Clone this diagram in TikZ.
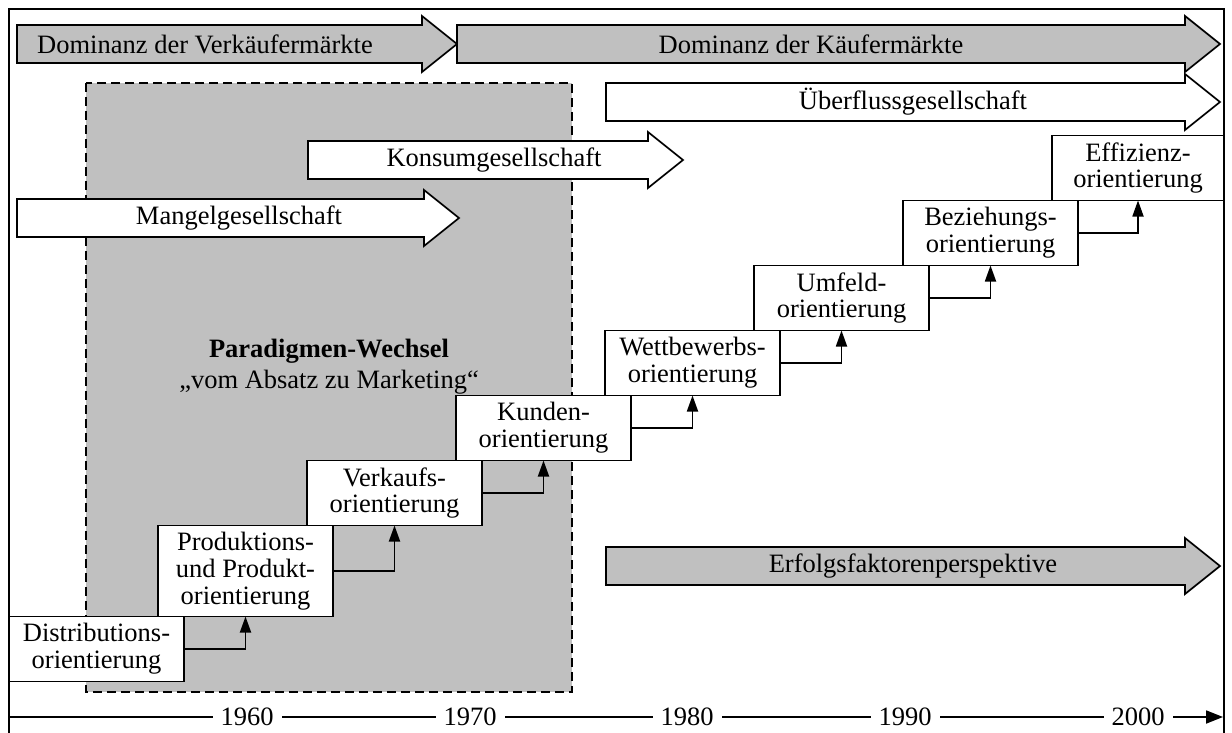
\documentclass[tikz,border=0pt]{standalone}
\usepackage{fontspec}
\setmainfont{Liberation Serif}
\usetikzlibrary{arrows.meta,positioning}
\definecolor{bandgray}{RGB}{192,192,192}
\tikzstyle{stepbox}=[rectangle,draw,line width=0.9pt,fill=white,align=center,minimum width=87.5pt,minimum height=32.5pt,inner sep=1pt,outer sep=0pt,font=\fontsize{13.25}{13.4}\selectfont]
\tikzstyle{band}=[draw,line width=0.85pt,line join=miter]
\tikzstyle{bandtext}=[inner sep=0pt,font=\fontsize{13.25}{13.4}\selectfont]
\tikzstyle{conn}=[-{Triangle[length=8pt,width=5.5pt]},line width=0.9pt]
\tikzstyle{yearlbl}=[fill=white,inner xsep=4pt,inner ysep=1pt,font=\fontsize{13.25}{13.4}\selectfont]
% block arrow: name, fill, left x, tip x, mid y, label x, label
\newcommand{\bandarrow}[7]{%
  \draw[band,fill=#2] (#3,#5-19) -- (#4-35,#5-19) -- (#4-35,#5-28) -- (#4,#5)
    -- (#4-35,#5+28) -- (#4-35,#5+19) -- (#3,#5+19) -- cycle;
  \node[bandtext] (#1) at (#6,#5) {#7};}

\begin{document}
\begin{tikzpicture}[x=0.5pt,y=-0.5pt]
\clip (0,0) rectangle (1232,733);
\draw[line width=0.9pt] (9,9) rectangle (1224,760);
% market phases
\bandarrow{verk}{bandgray}{17}{457}{44}{205}{Dominanz der Verkäufermärkte}
\bandarrow{kauf}{bandgray}{457}{1220}{44}{811}{Dominanz der Käufermärkte}
% paradigm shift area
\draw[line width=1.1pt,dash pattern=on 4.5pt off 2.5pt,fill=bandgray] (86,83) rectangle (572,692);
\bandarrow{ueber}{white}{606}{1220}{102}{913}{Überflussgesellschaft}
\bandarrow{konsum}{white}{308}{683}{160}{494}{Konsumgesellschaft}
\bandarrow{mangel}{white}{17}{459}{218}{239}{Mangelgesellschaft}
\bandarrow{erfolg}{bandgray}{606}{1220}{566}{913}{Erfolgsfaktorenperspektive}
\node[align=center,font=\fontsize{13.25}{15.5}\selectfont] (para) at (329,367) {\textbf{Paradigmen-Wechsel}\\„vom Absatz zu Marketing“};
% stairs
\node[stepbox] (dist) at (96.5,649) {Distributions-\\orientierung};
\node[stepbox,minimum height=45.5pt,above right=0pt and -13pt of dist] (prod) {Produktions-\\und Produkt-\\orientierung};
\node[stepbox,above right=0pt and -13pt of prod] (verkauf) {Verkaufs-\\orientierung};
\node[stepbox,above right=0pt and -13pt of verkauf] (kunde) {Kunden-\\orientierung};
\node[stepbox,above right=0pt and -13pt of kunde] (wettb) {Wettbewerbs-\\orientierung};
\node[stepbox,above right=0pt and -13pt of wettb] (umfeld) {Umfeld-\\orientierung};
\node[stepbox,above right=0pt and -13pt of umfeld] (bez) {Beziehungs-\\orientierung};
\node[stepbox,minimum width=86pt,above right=0pt and -13pt of bez] (eff) {Effizienz-\\orientierung};
\draw[conn] (dist.east) -| (prod.south);
\draw[conn] (prod.east) -| (verkauf.south);
\draw[conn] (verkauf.east) -| (kunde.south);
\draw[conn] (kunde.east) -| (wettb.south);
\draw[conn] (wettb.east) -| (umfeld.south);
\draw[conn] (umfeld.east) -| (bez.south);
\draw[conn] (bez.east) -| (eff.south);
% time axis
\coordinate (t0) at (9,717);
\coordinate (t1) at (1223,717);
\draw[line width=0.9pt,-{Triangle[length=8.5pt,width=6.5pt]}] (t0) -- (t1);
\foreach \yr/\xx in {1960/247,1970/470,1980/687,1990/905,2000/1138}
  \node[yearlbl] (y\yr) at (\xx,717) {\yr};
\end{tikzpicture}
\end{document}
